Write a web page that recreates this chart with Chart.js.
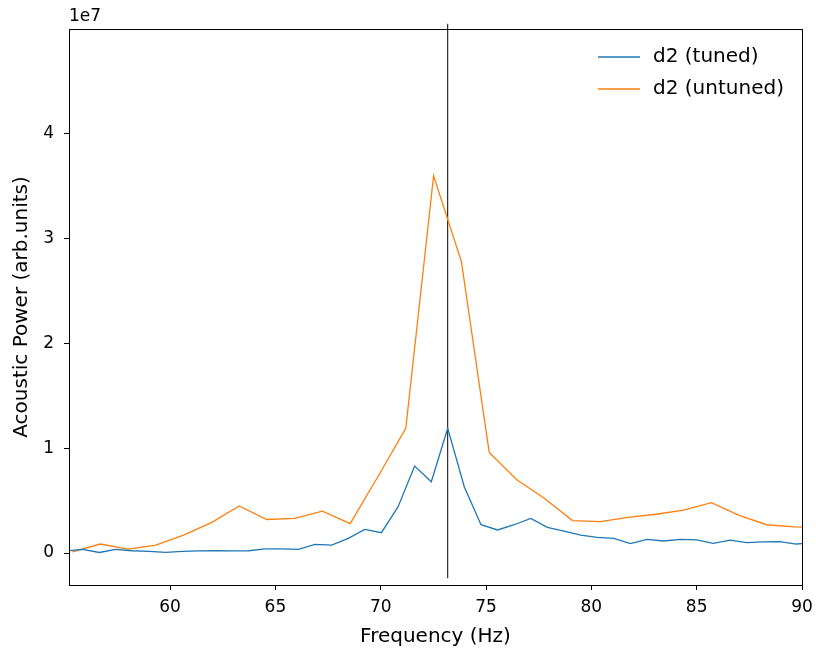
<!DOCTYPE html>
<html>
<head>
<meta charset="utf-8">
<script src="https://cdn.jsdelivr.net/npm/chart.js@4"></script>
<style>
  html, body { margin: 0; padding: 0; background: #fff; }
  #wrap { width: 817px; height: 656px; }
</style>
</head>
<body>
<div id="wrap"><canvas id="chartPotencia"></canvas></div>
<script>
// Datos (potencia en unidades de 1e7)
const tunedFreq = [55.06, 55.85, 56.64, 57.42, 58.21, 59.00, 59.79, 60.58, 61.36, 62.15,
    62.94, 63.73, 64.52, 65.30, 66.09, 66.88, 67.67, 68.46, 69.24, 70.03,
    70.82, 71.61, 72.40, 73.18, 73.97, 74.76, 75.55, 76.34, 77.12, 77.91,
    78.70, 79.49, 80.28, 81.06, 81.85, 82.64, 83.43, 84.22, 85.00, 85.79,
    86.58, 87.37, 88.16, 88.94, 89.73, 90.52];
const tunedPower = [0.02, 0.035, 0.005, 0.035, 0.022, 0.015, 0.007, 0.015, 0.02, 0.022,
    0.02, 0.022, 0.04, 0.04, 0.035, 0.083, 0.076, 0.14, 0.226, 0.194,
    0.44, 0.83, 0.68, 1.19, 0.63, 0.27, 0.22, 0.27, 0.33, 0.245,
    0.21, 0.17, 0.15, 0.14, 0.09, 0.13, 0.115, 0.13, 0.125, 0.093,
    0.124, 0.10, 0.107, 0.108, 0.086, 0.095];

const untunedFreq = [55.36, 56.68, 58.00, 59.32, 60.64, 61.96, 63.28, 64.59, 65.91, 67.23,
    68.55, 69.87, 71.19, 72.51, 73.83, 75.15, 76.46, 77.78, 79.10, 80.42,
    81.74, 83.06, 84.38, 85.70, 87.01, 88.33, 89.65, 90.97];
const untunedPower = [0.01, 0.086, 0.038, 0.076, 0.17, 0.29, 0.45, 0.32, 0.33, 0.40,
    0.28, 0.73, 1.19, 3.60, 2.78, 0.96, 0.70, 0.52, 0.31, 0.30,
    0.34, 0.37, 0.41, 0.48, 0.36, 0.27, 0.25, 0.24];

// Linea vertical en la resonancia
const markerFreq = [73.18, 73.18];
const markerPower = [-0.24, 5.05];

const seriesLabels = ['d2 (tuned)', 'd2 (untuned)'];
const xTicks = [60, 65, 70, 75, 80, 85, 90];
const yTicks = [0, 1, 2, 3, 4];

const FONT = 'DejaVu Sans';
const FONT_SIZE = 17;
const LABEL_SIZE = 20;

function puntos(xs, ys) {
    return xs.map((x, i) => ({ x: x, y: ys[i] }));
}

// Marco, "1e7" y leyenda dibujados a mano
const marcoPlugin = {
    id: 'marco',
    afterDraw(chart) {
        const ctx = chart.ctx;
        const a = chart.chartArea;
        ctx.save();
        ctx.strokeStyle = '#000';
        ctx.lineWidth = 1;
        ctx.strokeRect(Math.round(a.left) + 0.5, Math.round(a.top) + 0.5,
            Math.round(a.right - a.left), Math.round(a.bottom - a.top));

        ctx.fillStyle = '#000';
        ctx.font = FONT_SIZE + 'px "' + FONT + '"';
        ctx.textAlign = 'left';
        ctx.textBaseline = 'bottom';
        ctx.fillText('1e7', a.left, a.top - 4);

        // leyenda
        ctx.font = LABEL_SIZE + 'px "' + FONT + '"';
        ctx.textBaseline = 'middle';
        chart.data.datasets.slice(0, 2).forEach((ds, i) => {
            const y = a.top + 28 + i * 32;
            ctx.strokeStyle = ds.borderColor;
            ctx.lineWidth = 1.3;
            ctx.beginPath();
            ctx.moveTo(a.right - 204, y);
            ctx.lineTo(a.right - 162, y);
            ctx.stroke();
            ctx.fillStyle = '#000';
            ctx.fillText(ds.label, a.right - 149, y);
        });
        ctx.restore();
    }
};

function crearGrafico() {
    const ctx = document.getElementById('chartPotencia').getContext('2d');
    Chart.defaults.font.family = FONT;
    Chart.defaults.font.size = FONT_SIZE;
    Chart.defaults.color = '#000';

    new Chart(ctx, {
        type: 'line',
        data: {
            datasets: [
                {
                    label: seriesLabels[0],
                    data: puntos(tunedFreq, tunedPower),
                    borderColor: '#1f77b4',
                    borderWidth: 1.3,
                    pointRadius: 0,
                    tension: 0
                },
                {
                    label: seriesLabels[1],
                    data: puntos(untunedFreq, untunedPower),
                    borderColor: '#ff7f0e',
                    borderWidth: 1.3,
                    pointRadius: 0,
                    tension: 0
                },
                {
                    label: 'marker',
                    data: puntos(markerFreq, markerPower),
                    borderColor: '#000',
                    borderWidth: 1,
                    pointRadius: 0,
                    clip: false
                }
            ]
        },
        options: {
            responsive: true,
            maintainAspectRatio: false,
            animation: false,
            layout: { padding: { top: 29, right: 15, left: 0, bottom: 0 } },
            plugins: {
                legend: { display: false },
                tooltip: { enabled: false }
            },
            scales: {
                x: {
                    type: 'linear',
                    min: 55.2,
                    max: 90,
                    afterFit(scale) {
                        scale.height = 71;
                        scale.paddingLeft = 0;
                        scale.paddingRight = 0;
                    },
                    afterBuildTicks(scale) { scale.ticks = xTicks.map(v => ({ value: v })); },
                    border: { display: false },
                    grid: { drawOnChartArea: false, drawTicks: true, tickLength: 5, color: '#000' },
                    ticks: { padding: 7, maxRotation: 0, callback: v => String(v) },
                    title: { display: true, text: 'Frequency (Hz)', font: { size: LABEL_SIZE },
                        padding: { top: 0, bottom: 7 } }
                },
                y: {
                    type: 'linear',
                    min: -0.305,
                    max: 5.0,
                    afterFit(scale) {
                        scale.width = 69;
                        scale.paddingTop = 0;
                        scale.paddingBottom = 0;
                    },
                    afterBuildTicks(scale) { scale.ticks = yTicks.map(v => ({ value: v })); },
                    border: { display: false },
                    grid: { drawOnChartArea: false, drawTicks: true, tickLength: 5, color: '#000' },
                    ticks: { padding: 10, callback: v => String(v) },
                    title: { display: true, text: 'Acoustic Power (arb.units)', font: { size: LABEL_SIZE },
                        padding: { top: 10, bottom: 0 } }
                }
            }
        },
        plugins: [marcoPlugin]
    });
}

crearGrafico();
</script>
</body>
</html>
